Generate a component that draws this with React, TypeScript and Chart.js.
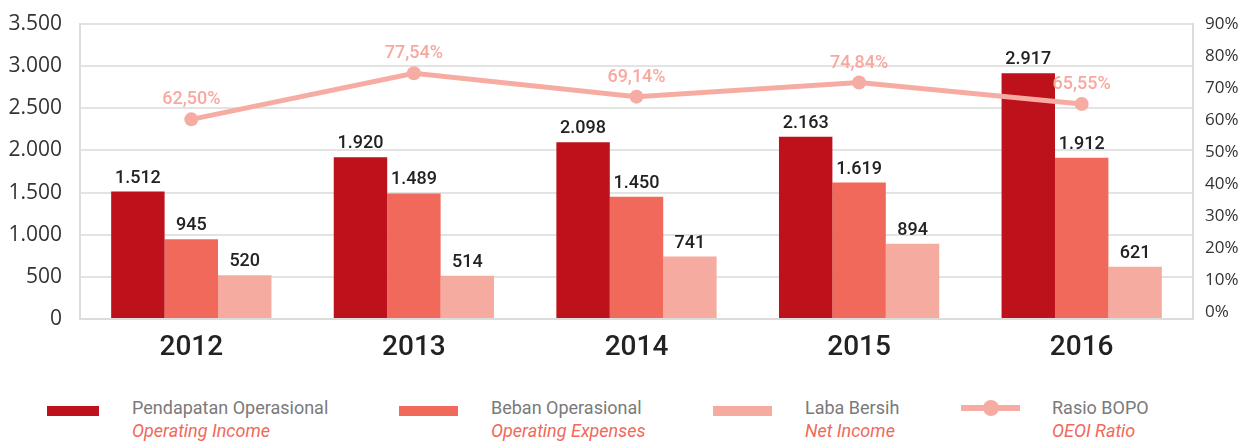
import React, { useEffect, useRef } from 'react';
import { Chart, registerables } from 'chart.js';

Chart.register(...registerables);

const years = ['2012', '2013', '2014', '2015', '2016'];
const operatingIncome = [1512, 1920, 2098, 2163, 2917];
const operatingExpenses = [945, 1489, 1450, 1619, 1912];
const netIncome = [520, 514, 741, 894, 621];
// ratio points as drawn in the picture (right axis), and the printed ratio labels
const ratioPlotted = [60.2, 74.6, 67.3, 71.7, 65.0];
const ratioLabels = ['62,50%', '77,54%', '69,14%', '74,84%', '65,55%'];
const rightTicks = [0, 10, 20, 30, 40, 50, 60, 70, 80, 90];

const seriesNames = [
  { id: 'Pendapatan Operasional', en: 'Operating Income' },
  { id: 'Beban Operasional', en: 'Operating Expenses' },
  { id: 'Laba Bersih', en: 'Net Income' },
  { id: 'Rasio BOPO', en: 'OEOI Ratio' },
];

const C_DARK = '#bd111b';
const C_MID = '#f0695a';
const C_LIGHT = '#f6aba1';
const C_LINE = '#f6aca3';

const fmt = (n: number) => String(n).replace(/\B(?=(\d{3})+(?!\d))/g, '.');

const labelPlugin = {
  id: 'valueLabels',
  afterDatasetsDraw(chart: any) {
    const ctx = chart.ctx;
    ctx.save();
    ctx.textAlign = 'center';
    ctx.textBaseline = 'alphabetic';
    chart.data.datasets.forEach((ds: any, i: number) => {
      if (ds.type === 'line') return;
      const meta = chart.getDatasetMeta(i);
      meta.data.forEach((el: any, j: number) => {
        ctx.font = '500 18px Roboto';
        ctx.fillStyle = '#222';
        ctx.fillText(fmt(ds.data[j]), el.x, el.y - 9);
      });
    });
    chart.data.datasets.forEach((ds: any, i: number) => {
      if (ds.type !== 'line') return;
      const meta = chart.getDatasetMeta(i);
      meta.data.forEach((el: any, j: number) => {
        ctx.font = '500 18px Roboto';
        ctx.fillStyle = '#f7a9a0';
        ctx.fillText(ratioLabels[j], el.x, el.y - 15);
      });
    });
    ctx.restore();
  },
};

function ChartCanvas() {
  const ref = useRef<HTMLCanvasElement | null>(null);
  useEffect(() => {
    if (!ref.current) return;
    const chart = new Chart(ref.current, {
      type: 'bar',
      data: {
        labels: years,
        datasets: [
          {
            type: 'line',
            label: seriesNames[3].id,
            data: ratioPlotted,
            yAxisID: 'y2',
            borderColor: C_LINE,
            backgroundColor: C_LINE,
            borderWidth: 5,
            pointRadius: 7,
            pointBackgroundColor: C_LINE,
            pointBorderWidth: 0,
            tension: 0,
            order: 0,
          } as any,
          {
            label: seriesNames[0].id,
            data: operatingIncome,
            backgroundColor: C_DARK,
            yAxisID: 'y',
            order: 1,
          },
          {
            label: seriesNames[1].id,
            data: operatingExpenses,
            backgroundColor: C_MID,
            yAxisID: 'y',
            order: 1,
          },
          {
            label: seriesNames[2].id,
            data: netIncome,
            backgroundColor: C_LIGHT,
            yAxisID: 'y',
            order: 1,
          },
        ],
      },
      options: {
        responsive: false,
        animation: false,
        datasets: {
          bar: { categoryPercentage: 0.72, barPercentage: 1.0 },
        },
        layout: { padding: { top: 24, left: 0, right: 0, bottom: 0 } },
        plugins: {
          legend: { display: false },
          tooltip: { enabled: false },
        },
        scales: {
          x: {
            grid: { display: false, drawTicks: false },
            border: { display: true, color: '#dcdcdc', width: 2 },
            ticks: {
              color: '#222',
              font: { family: 'Roboto', size: 28, weight: '500' as any },
              padding: 12,
            },
            afterFit: (s: any) => {
              s.height = 51;
              s.paddingLeft = 0;
              s.paddingRight = 0;
            },
          },
          y: {
            position: 'left',
            min: 0,
            max: 3500,
            ticks: {
              stepSize: 500,
              color: '#333',
              font: { family: 'Open Sans', size: 21 },
              padding: 18,
              callback: (v: any) => fmt(Number(v)),
            },
            grid: { color: '#e3e3e3', lineWidth: 2, drawTicks: false },
            border: { display: true, color: '#dcdcdc', width: 2 },
            afterFit: (s: any) => {
              s.width = 80;
              s.paddingTop = 0;
              s.paddingBottom = 0;
            },
          },
          y2: {
            position: 'right',
            min: -2.2,
            max: 90,
            afterBuildTicks: (axis: any) => {
              axis.ticks = rightTicks.map((v) => ({ value: v }));
            },
            ticks: {
              color: '#333',
              font: { family: 'Open Sans', size: 17 },
              padding: 12,
              callback: (v: any) => v + '%',
            },
            grid: { display: false, drawTicks: false },
            border: { display: true, color: '#dcdcdc', width: 2 },
            afterFit: (s: any) => {
              s.width = 57;
              s.paddingTop = 0;
              s.paddingBottom = 0;
            },
          },
        },
      },
      plugins: [labelPlugin],
    });
    return () => chart.destroy();
  }, []);
  return <canvas ref={ref} width={1250} height={370} style={{ display: 'block' }} />;
}

const legendItems = [
  { sw: 'bar', color: C_DARK, x: 47, w: 52, tx: 132 },
  { sw: 'bar', color: C_MID, x: 399, w: 59, tx: 491 },
  { sw: 'bar', color: C_LIGHT, x: 713, w: 59, tx: 805 },
  { sw: 'line', color: C_LINE, x: 961, w: 59, tx: 1052 },
];

export default function App() {
  return (
    <div
      style={{
        position: 'absolute',
        left: 0,
        top: 0,
        width: 1250,
        height: 441,
        background: '#fff',
        overflow: 'hidden',
      }}
    >
      <ChartCanvas />
      {legendItems.map((it, i) => (
        <React.Fragment key={i}>
          {it.sw === 'bar' ? (
            <div
              style={{
                position: 'absolute',
                left: it.x,
                top: 406,
                width: it.w,
                height: 10,
                background: it.color,
              }}
            />
          ) : (
            <>
              <div
                style={{
                  position: 'absolute',
                  left: it.x,
                  top: 405,
                  width: it.w,
                  height: 6,
                  background: it.color,
                }}
              />
              <div
                style={{
                  position: 'absolute',
                  left: 991 - 8,
                  top: 408 - 8,
                  width: 16,
                  height: 16,
                  borderRadius: '50%',
                  background: it.color,
                }}
              />
            </>
          )}
          <div
            style={{
              position: 'absolute',
              left: it.tx,
              top: 397,
              fontFamily: 'Roboto',
              fontSize: 18,
              lineHeight: '22px',
              color: '#7a7a7a',
              whiteSpace: 'nowrap',
            }}
          >
            {seriesNames[i].id}
          </div>
          <div
            style={{
              position: 'absolute',
              left: it.tx,
              top: 420,
              fontFamily: 'Roboto',
              fontSize: 18,
              lineHeight: '22px',
              fontStyle: 'italic',
              color: C_MID,
              whiteSpace: 'nowrap',
            }}
          >
            {seriesNames[i].en}
          </div>
        </React.Fragment>
      ))}
    </div>
  );
}
